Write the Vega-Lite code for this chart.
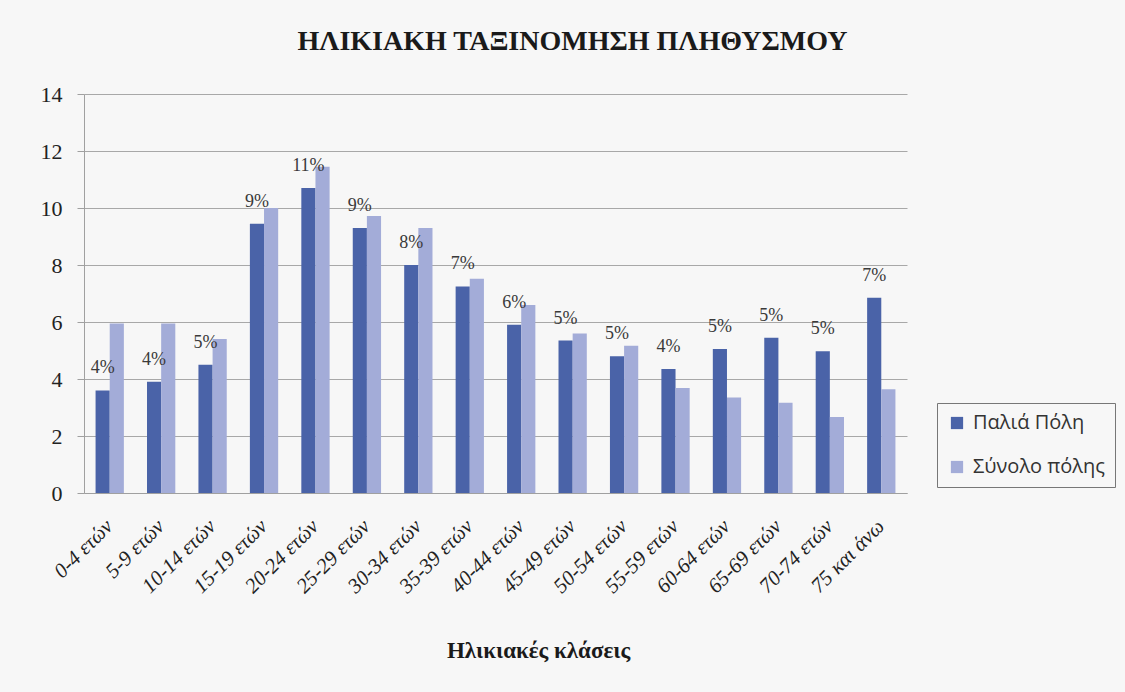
{
  "$schema": "https://vega.github.io/schema/vega-lite/v6.json",
  "width": 823,
  "height": 399,
  "autosize": {"type": "none"},
  "padding": {"left": 84, "top": 94, "right": 218, "bottom": 199},
  "background": "#f7f7f7",
  "title": {
    "text": "ΗΛΙΚΙΑΚΗ ΤΑΞΙΝΟΜΗΣΗ ΠΛΗΘΥΣΜΟΥ",
    "font": "Liberation Serif",
    "fontSize": 28,
    "fontWeight": "bold",
    "color": "#1a1a1a",
    "anchor": "middle",
    "dx": 77,
    "offset": 27
  },
  "data": {
    "values": [
      {"age": "0-4 ετών", "series": "Παλιά Πόλη", "value": 3.6, "label": "4%"},
      {"age": "5-9 ετών", "series": "Παλιά Πόλη", "value": 3.9, "label": "4%"},
      {"age": "10-14 ετών", "series": "Παλιά Πόλη", "value": 4.5, "label": "5%"},
      {"age": "15-19 ετών", "series": "Παλιά Πόλη", "value": 9.45, "label": "9%"},
      {"age": "20-24 ετών", "series": "Παλιά Πόλη", "value": 10.7, "label": "11%"},
      {"age": "25-29 ετών", "series": "Παλιά Πόλη", "value": 9.3, "label": "9%"},
      {"age": "30-34 ετών", "series": "Παλιά Πόλη", "value": 8.0, "label": "8%"},
      {"age": "35-39 ετών", "series": "Παλιά Πόλη", "value": 7.25, "label": "7%"},
      {"age": "40-44 ετών", "series": "Παλιά Πόλη", "value": 5.9, "label": "6%"},
      {"age": "45-49 ετών", "series": "Παλιά Πόλη", "value": 5.35, "label": "5%"},
      {"age": "50-54 ετών", "series": "Παλιά Πόλη", "value": 4.8, "label": "5%"},
      {"age": "55-59 ετών", "series": "Παλιά Πόλη", "value": 4.35, "label": "4%"},
      {"age": "60-64 ετών", "series": "Παλιά Πόλη", "value": 5.05, "label": "5%"},
      {"age": "65-69 ετών", "series": "Παλιά Πόλη", "value": 5.45, "label": "5%"},
      {"age": "70-74 ετών", "series": "Παλιά Πόλη", "value": 4.97, "label": "5%"},
      {"age": "75 και άνω", "series": "Παλιά Πόλη", "value": 6.85, "label": "7%"},
      {"age": "0-4 ετών", "series": "Σύνολο πόλης", "value": 5.95},
      {"age": "5-9 ετών", "series": "Σύνολο πόλης", "value": 5.95},
      {"age": "10-14 ετών", "series": "Σύνολο πόλης", "value": 5.4},
      {"age": "15-19 ετών", "series": "Σύνολο πόλης", "value": 10.0},
      {"age": "20-24 ετών", "series": "Σύνολο πόλης", "value": 11.45},
      {"age": "25-29 ετών", "series": "Σύνολο πόλης", "value": 9.72},
      {"age": "30-34 ετών", "series": "Σύνολο πόλης", "value": 9.3},
      {"age": "35-39 ετών", "series": "Σύνολο πόλης", "value": 7.52},
      {"age": "40-44 ετών", "series": "Σύνολο πόλης", "value": 6.6},
      {"age": "45-49 ετών", "series": "Σύνολο πόλης", "value": 5.6},
      {"age": "50-54 ετών", "series": "Σύνολο πόλης", "value": 5.17},
      {"age": "55-59 ετών", "series": "Σύνολο πόλης", "value": 3.68},
      {"age": "60-64 ετών", "series": "Σύνολο πόλης", "value": 3.35},
      {"age": "65-69 ετών", "series": "Σύνολο πόλης", "value": 3.17},
      {"age": "70-74 ετών", "series": "Σύνολο πόλης", "value": 2.67},
      {"age": "75 και άνω", "series": "Σύνολο πόλης", "value": 3.64}
    ]
  },
  "encoding": {
    "x": {
      "field": "age",
      "type": "nominal",
      "sort": null,
      "scale": {"paddingInner": 0.45, "paddingOuter": 0.225},
      "axis": {
        "title": "Ηλικιακές κλάσεις",
        "titleFont": "Liberation Serif",
        "titleFontSize": 23,
        "titleFontWeight": "bold",
        "titleColor": "#1a1a1a",
        "titleX": 454,
        "titleY": 164,
        "titleBaseline": "alphabetic",
        "labelAngle": -45,
        "labelAlign": "right",
        "labelBaseline": "middle",
        "labelFont": "Liberation Serif",
        "labelFontStyle": "italic",
        "labelFontSize": 21,
        "labelColor": "#222222",
        "labelPadding": 30,
        "ticks": false,
        "domainColor": "#a0a0a0",
        "grid": false
      }
    },
    "xOffset": {"field": "series", "type": "nominal", "scale": {"domain": ["Παλιά Πόλη", "Σύνολο πόλης"], "padding": 0}},
    "y": {
      "field": "value",
      "type": "quantitative",
      "scale": {"domain": [0, 14], "nice": false},
      "axis": {
        "title": null,
        "values": [0, 2, 4, 6, 8, 10, 12, 14],
        "labelFont": "Liberation Serif",
        "labelFontSize": 22,
        "labelColor": "#222222",
        "labelPadding": 15,
        "tickSize": 7,
        "tickColor": "#a0a0a0",
        "domainColor": "#a0a0a0",
        "gridColor": "#a8a8a8",
        "gridWidth": 1
      }
    }
  },
  "layer": [
    {
      "mark": {"type": "bar"},
      "encoding": {
        "color": {
          "field": "series",
          "type": "nominal",
          "scale": {"domain": ["Παλιά Πόλη", "Σύνολο πόλης"], "range": ["#4a63a8", "#a3acd8"]},
          "legend": {
            "title": null,
            "orient": "none",
            "legendX": 853,
            "legendY": 309,
            "symbolType": "square",
            "symbolSize": 150,
            "symbolStrokeWidth": 0,
            "labelFont": "Open Sans",
            "labelFontSize": 20,
            "labelColor": "#333333",
            "labelOffset": 6,
            "rowPadding": 24,
            "padding": 10,
            "strokeColor": "#777777",
            "fillColor": "#f7f7f7"
          }
        }
      }
    },
    {
      "transform": [{"filter": "datum.series === 'Παλιά Πόλη'"}],
      "mark": {
        "type": "text",
        "font": "Liberation Serif",
        "fontSize": 18,
        "color": "#3a3a3a",
        "baseline": "alphabetic",
        "dy": -17
      },
      "encoding": {
        "text": {"field": "label"}
      }
    }
  ],
  "config": {
    "view": {"stroke": null}
  }
}
